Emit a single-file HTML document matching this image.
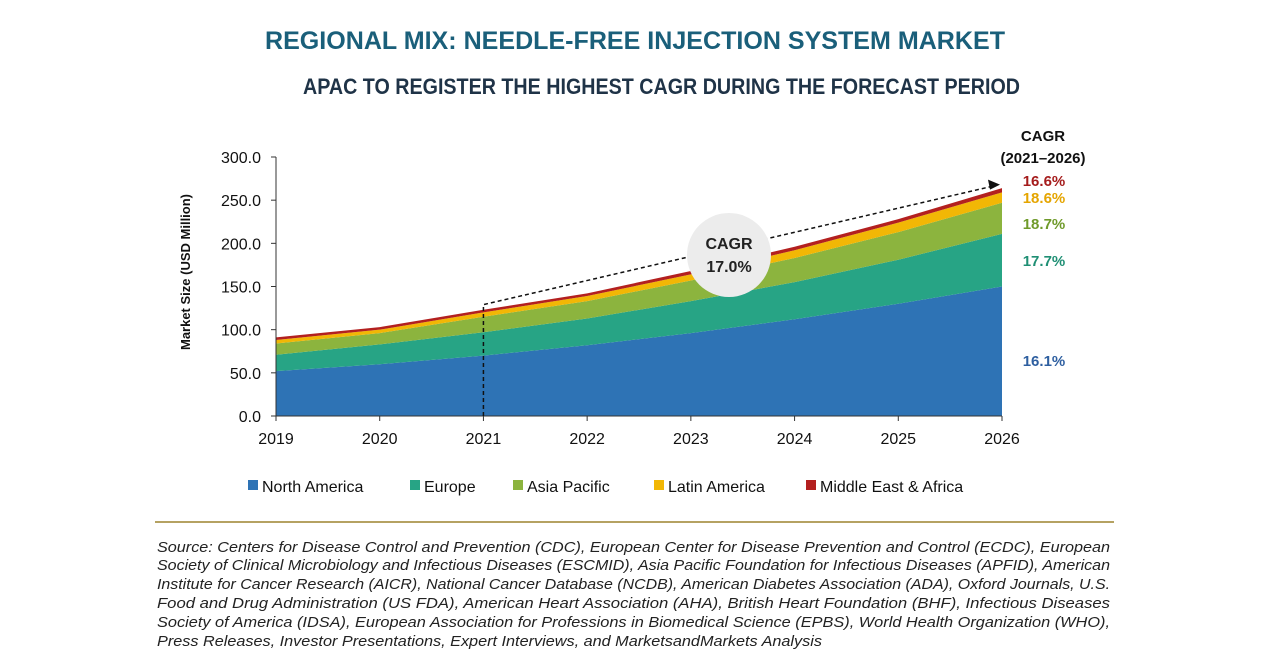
<!DOCTYPE html>
<html><head><meta charset="utf-8"><style>
body{margin:0;width:1280px;height:670px;background:#fff;font-family:"Liberation Sans",sans-serif;overflow:hidden}
svg{position:absolute;left:0;top:0}
</style></head><body>
<svg width="1280" height="670">
<text x="265" y="49" textLength="740" lengthAdjust="spacingAndGlyphs" font-size="25" font-weight="bold" fill="#1a5f7a">REGIONAL MIX: NEEDLE-FREE INJECTION SYSTEM MARKET</text>
<text x="303" y="94" textLength="717" lengthAdjust="spacingAndGlyphs" font-size="22" font-weight="bold" fill="#1f3347">APAC TO REGISTER THE HIGHEST CAGR DURING THE FORECAST PERIOD</text>
<g id="plot"></g>
<line x1="155" y1="522" x2="1114" y2="522" stroke="#b5a262" stroke-width="2"/>
<text font-size="15" font-style="italic" fill="#222">
<tspan x="157" y="552" textLength="953" lengthAdjust="spacingAndGlyphs">Source: Centers for Disease Control and Prevention (CDC), European Center for Disease Prevention and Control (ECDC), European</tspan>
<tspan x="157" y="570" textLength="953" lengthAdjust="spacingAndGlyphs">Society of Clinical Microbiology and Infectious Diseases (ESCMID), Asia Pacific Foundation for Infectious Diseases (APFID), American</tspan>
<tspan x="157" y="589" textLength="953" lengthAdjust="spacingAndGlyphs">Institute for Cancer Research (AICR), National Cancer Database (NCDB), American Diabetes Association (ADA), Oxford Journals, U.S.</tspan>
<tspan x="157" y="608" textLength="953" lengthAdjust="spacingAndGlyphs">Food and Drug Administration (US FDA), American Heart Association (AHA), British Heart Foundation (BHF), Infectious Diseases</tspan>
<tspan x="157" y="627" textLength="953" lengthAdjust="spacingAndGlyphs">Society of America (IDSA), European Association for Professions in Biomedical Science (EPBS), World Health Organization (WHO),</tspan>
<tspan x="157" y="646" textLength="665" lengthAdjust="spacingAndGlyphs">Press Releases, Investor Presentations, Expert Interviews, and MarketsandMarkets Analysis</tspan>
</text>
</svg>
<script>
const years=[2019,2020,2021,2022,2023,2024,2025,2026];
const northAmerica=[52,60,70,82,96,112,130,150];
const europe=[19,23,27,31,37,43,51,61];
const asiaPacific=[13,13,18,20,24,28,32,36];
const latinAmerica=[4,4,5,6,7,9,11,12];
const middleEastAfrica=[3,3,3,3,4,4,4,5];
const series=[["North America",northAmerica,"#2e73b5"],["Europe",europe,"#27a485"],["Asia Pacific",asiaPacific,"#8cb43e"],["Latin America",latinAmerica,"#f2b705"],["Middle East & Africa",middleEastAfrica,"#b3201f"]];
const cagrs=["16.1%","17.7%","18.7%","18.6%","16.6%"];
const yTicks=[0,50,100,150,200,250,300];
const ns="http://www.w3.org/2000/svg";
const X0=276,X1=1002,Y0=416,Y1=157;
const xs=i=>X0+(X1-X0)*i/(years.length-1);
const ys=v=>Y0-(Y0-Y1)*v/300;
const g=document.getElementById('plot');
function mk(t,a){const e=document.createElementNS(ns,t);for(const k in a)e.setAttribute(k,a[k]);g.appendChild(e);return e;}
let base=years.map(()=>0);
series.forEach((s,si)=>{
 const top=base.map((b,i)=>b+s[1][i]);
 let d="M"+years.map((y,i)=>xs(i)+","+ys(top[i])).join(" L");
 for(let i=years.length-1;i>=0;i--)d+=" L"+xs(i)+","+ys(base[i]);
 const p=mk('path',{d:d+"Z",fill:s[2]});
 
 
 const lab=[361,261,224,198,181][si];
 const t=mk('text',{x:1044,y:lab+5,'text-anchor':'middle','font-size':15,'font-weight':'bold',fill:["#2e5fa0","#1f8f74","#6f9a2a","#e5a500","#a51c1c"][si]});
 t.textContent=cagrs[si];
 
 
 base=top;
});
const ax=mk('path',{d:`M${X0},${Y1} V${Y0} H${X1}`,stroke:"#333",fill:"none","stroke-width":1});


yTicks.forEach(v=>{
 mk('line',{x1:X0-5,x2:X0,y1:ys(v),y2:ys(v),stroke:"#333"});
 const t=mk('text',{x:X0-15,y:ys(v)+6,'text-anchor':'end','font-size':16,fill:"#111"});
 t.textContent=v.toFixed(1);
 
 
});
years.forEach((y,i)=>{
 mk('line',{x1:xs(i),x2:xs(i),y1:Y0,y2:Y0+5,stroke:"#333"});
 const t=mk('text',{x:xs(i),y:Y0+28,'text-anchor':'middle','font-size':16,fill:"#111"});
 t.textContent=y;
 
 
});
const yt=mk('text',{transform:"translate(190,272) rotate(-90)",'text-anchor':'middle','font-size':13,'font-weight':'bold',fill:"#111"});
yt.textContent="Market Size (USD Million)";


mk('path',{d:`M${xs(2)},${Y0} V${ys(129)} L992,${ys(266)}`,stroke:"#111",fill:"none","stroke-width":1.5,"stroke-dasharray":"4,3"});
mk('path',{d:`M1000,${ys(268)} l-12,-5 l2,10z`,fill:"#111"});
const c=mk('circle',{cx:729,cy:255,r:42,fill:"#ececec"});


[["CAGR",249],["17.0%",272]].forEach(a=>{const t=mk('text',{x:729,y:a[1],'text-anchor':'middle','font-size':16,'font-weight':'bold',fill:"#222"});t.textContent=a[0];});
[["CAGR",141],["(2021–2026)",163]].forEach(a=>{const t=mk('text',{x:1043,y:a[1],'text-anchor':'middle','font-size':15,'font-weight':'bold',fill:"#111"});t.textContent=a[0];});
const lx=[248,410,513,654,806];
series.forEach((s,i)=>{
 const r=mk('rect',{x:lx[i],y:480,width:10,height:10,fill:s[2]});
 
 
 const t=mk('text',{x:lx[i]+14,y:492,'font-size':16,fill:"#111"});
 t.textContent=s[0];
 
 
});
</script>
</body></html>
